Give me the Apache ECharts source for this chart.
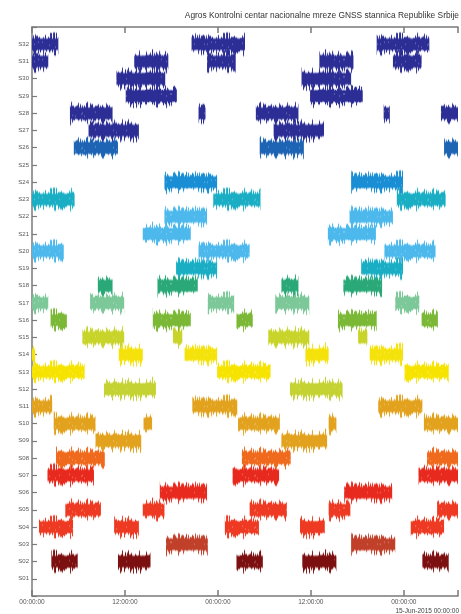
<!DOCTYPE html>
<html>
<head>
<meta charset="utf-8">
<script src="https://cdn.jsdelivr.net/npm/echarts@6/dist/echarts.min.js"></script>
<style>html,body{margin:0;padding:0;background:#fff}#c{width:461px;height:614px}</style>
</head>
<body>
<div id="c"></div>
<script>
// Time axis in hours from the first 00:00:00 tick
const xTickHours = [0, 12, 24, 36, 48];
const xTickLabels = ['00:00:00', '12:00:00', '00:00:00', '12:00:00', '00:00:00'];
const satNames = ['S01','S02','S03','S04','S05','S06','S07','S08','S09','S10','S11','S12','S13','S14','S15','S16',
  'S17','S18','S19','S20','S21','S22','S23','S24','S25','S26','S27','S28','S29','S30','S31','S32'];

// Visibility passes per satellite: [start hour, end hour]
const passS32 = [[0,3.4],[20.6,27.5],[44.5,51.3]];
const passS31 = [[0,2.1],[13.2,17.6],[22.6,26.3],[37.1,41.5],[46.6,50.3]];
const passS30 = [[10.9,17.2],[34.8,41.2]];
const passS29 = [[12.1,18.7],[35.9,42.7]];
const passS28 = [[4.9,10.4],[21.5,22.4],[28.9,34.4],[45.4,46.2],[52.8,55]];
const passS27 = [[7.3,13.8],[31.2,37.7]];
const passS26 = [[5.4,11.1],[29.4,35.1],[53.2,55]];
const passS24 = [[17.1,23.9],[41.2,47.9]];
const passS23 = [[0,5.5],[23.4,29.5],[47.1,53.4]];
const passS22 = [[17.1,22.6],[41.0,46.6]];
const passS21 = [[14.3,20.5],[38.2,44.4]];
const passS20 = [[0,4.1],[21.5,28.1],[45.5,52.1]];
const passS19 = [[18.6,23.9],[42.5,47.9]];
const passS18 = [[8.5,10.4],[16.2,21.4],[32.2,34.4],[40.2,45.2]];
const passS17 = [[0,2.1],[7.5,11.9],[22.7,26.1],[31.4,35.8],[46.9,50.0]];
const passS16 = [[2.4,4.5],[15.6,20.5],[26.4,28.5],[39.5,44.5],[50.3,52.4]];
const passS15 = [[6.5,11.9],[18.2,19.4],[30.5,35.8],[42.1,43.3]];
const passS14 = [[0,0.4],[11.2,14.3],[19.7,23.9],[35.3,38.3],[43.6,47.9]];
const passS13 = [[0,6.8],[23.9,30.8],[48.1,53.8]];
const passS12 = [[9.3,16.0],[33.3,40.1]];
const passS11 = [[0,2.6],[20.7,26.5],[44.7,50.4]];
const passS10 = [[2.8,8.2],[14.4,15.5],[26.6,32.0],[38.3,39.3],[50.6,55]];
const passS09 = [[8.2,14.1],[32.2,38.1]];
const passS08 = [[3.1,9.4],[27.1,33.4],[51.0,55]];
const passS07 = [[2.0,8.0],[25.9,31.9],[49.9,55]];
const passS06 = [[16.5,22.6],[40.3,46.5]];
const passS05 = [[4.3,8.9],[14.3,17.1],[28.1,32.9],[38.3,41.1],[52.3,55]];
const passS04 = [[0.9,5.3],[10.6,13.8],[24.9,29.3],[34.6,37.8],[48.9,53.2]];
const passS03 = [[17.3,22.7],[41.2,46.9]];
const passS02 = [[2.5,5.9],[11.1,15.3],[26.4,29.8],[34.9,39.3],[50.4,53.8]];

const passes = {
  32: passS32, 31: passS31, 30: passS30, 29: passS29, 28: passS28, 27: passS27, 26: passS26,
  24: passS24, 23: passS23, 22: passS22, 21: passS21, 20: passS20, 19: passS19, 18: passS18,
  17: passS17, 16: passS16, 15: passS15, 14: passS14, 13: passS13, 12: passS12, 11: passS11,
  10: passS10, 9: passS09, 8: passS08, 7: passS07, 6: passS06, 5: passS05, 4: passS04,
  3: passS03, 2: passS02
};

const satColors = {
  32:'#2c2e96', 31:'#2c2e96', 30:'#2c2e96', 29:'#2c2e96', 28:'#2c2e96', 27:'#2c2e96', 26:'#1e64b4',
  24:'#1a8ed4', 23:'#1aaec4', 22:'#4cb8ec', 21:'#4cb8ec', 20:'#4cb8ec', 19:'#1aaec4', 18:'#2aa878',
  17:'#7cc898', 16:'#7ab836', 15:'#c8d42a', 14:'#f4e20a', 13:'#f6e400', 12:'#c4d232', 11:'#e2a21e',
  10:'#e2a21e', 9:'#e2a21e', 8:'#f06a1e', 7:'#e82a1e', 6:'#e82a1e', 5:'#ee3a22', 4:'#ee3a22',
  3:'#c0402a', 2:'#7c1010'
};

// build data rows for the custom series
const rows = [];
Object.keys(passes).forEach(k => {
  passes[k].forEach(p => rows.push([p[0], p[1], Number(k)]));
});

// noise texture (purely a drawing style, not data)
const TEX_W = 173, TEX_H = 26;
const texCache = {};
function hash(n) { const s = Math.sin(n * 78.233 + 1.7) * 43758.5453; return s - Math.floor(s); }
function noiseTexture(color) {
  if (texCache[color]) return texCache[color];
  const cv = document.createElement('canvas');
  cv.width = TEX_W; cv.height = TEX_H;
  const ctx = cv.getContext('2d');
  ctx.fillStyle = color;
  const mid = TEX_H / 2;
  for (let i = 0; i < TEX_W; i++) {
    const a = hash(i), b = hash(i + 1000);
    const up = 5.5 + Math.pow(a, 2.5) * 6.5;
    const dn = 5.5 + Math.pow(b, 2.5) * 6.5;
    ctx.globalAlpha = 1;
    ctx.fillRect(i, mid - up, 1, up + dn);
    ctx.globalAlpha = 0.3;
    ctx.fillRect(i, mid - up - 1, 1, 1);
    ctx.fillRect(i, mid + dn, 1, 1);
  }
  ctx.globalAlpha = 0.22;
  ctx.fillStyle = '#ffffff';
  for (let i = 0; i < TEX_W; i++) {
    const c = hash(i + 2000);
    if (c < 0.18) ctx.fillRect(i, mid - 4 + Math.floor(hash(i + 3000) * 7), 1, 2);
  }
  texCache[color] = cv;
  return cv;
}

const chart = echarts.init(document.getElementById('c'), null, {renderer: 'canvas'});
const option = {
  animation: false,
  backgroundColor: '#ffffff',
  title: {
    text: 'Agros Kontrolni centar nacionalne mreze GNSS stannica Republike Srbije',
    right: 2, top: 12, padding: 0,
    textStyle: {fontSize: 8.4, fontWeight: 'normal', color: '#333', fontFamily: 'Liberation Sans, Arial'}
  },
  grid: {left: 32, right: -9, top: 27, bottom: 18, containLabel: false},
  xAxis: [{
    type: 'value', min: 0, max: 55, interval: 12,
    axisLine: {show: true, lineStyle: {color: '#7a7a7a', width: 1.5}},
    axisTick: {show: true, inside: true, length: 6, lineStyle: {color: '#7a7a7a', width: 1.5}},
    splitLine: {show: false},
    axisLabel: {
      fontSize: 6.5, color: '#555', margin: 3, fontFamily: 'Liberation Sans, Arial',
      formatter: v => { const i = xTickHours.indexOf(v); return i >= 0 ? xTickLabels[i] : ''; }
    }
  }, {
    type: 'value', min: 0, max: 55, interval: 12, position: 'top',
    axisLine: {show: true, lineStyle: {color: '#7a7a7a', width: 1.5}},
    axisTick: {show: true, inside: true, length: 6, lineStyle: {color: '#7a7a7a', width: 1.5}},
    axisLabel: {show: false}, splitLine: {show: false}
  }],
  yAxis: {
    type: 'value', min: 0, max: 33, interval: 1,
    axisLine: {show: true, lineStyle: {color: '#7a7a7a', width: 1.5}},
    axisTick: {show: true, inside: true, length: 5, lineStyle: {color: '#7a7a7a', width: 1.2}},
    splitLine: {show: false},
    axisLabel: {
      fontSize: 6, color: '#555', margin: 3, fontFamily: 'Liberation Sans, Arial',
      formatter: v => (v >= 1 && v <= 32) ? satNames[v - 1] : ''
    }
  },
  graphic: [{
    type: 'text', right: 2, bottom: -1,
    style: {text: '15-Jun-2015 00:00:00', fontSize: 6.5, fill: '#444', fontFamily: 'Liberation Sans, Arial'}
  }],
  series: [{
    type: 'custom',
    xAxisIndex: 0, yAxisIndex: 0,
    data: rows,
    clip: true,
    renderItem: (params, api) => {
      const s = api.value(0), e = api.value(1), sat = api.value(2);
      const p0 = api.coord([s, sat]);
      const p1 = api.coord([e, sat]);
      const color = satColors[sat];
      const top = p0[1] - TEX_H / 2;
      return {
        type: 'rect',
        shape: {x: p0[0], y: top, width: Math.max(p1[0] - p0[0], 1), height: TEX_H},
        style: {fill: {image: noiseTexture(color), repeat: 'repeat', x: 0, y: top}}
      };
    }
  }]
};
chart.setOption(option);
</script>
</body>
</html>
